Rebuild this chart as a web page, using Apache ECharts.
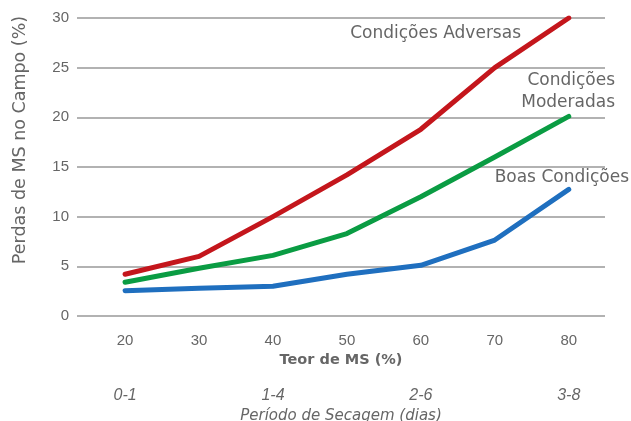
<!DOCTYPE html>
<html>
<head>
<meta charset="utf-8">
<script src="https://cdn.jsdelivr.net/npm/echarts@6/dist/echarts.min.js"></script>
<style>html,body{margin:0;padding:0;background:#fff}#c{width:631px;height:421px}</style>
</head>
<body>
<div id="c"></div>
<script>
var teorMS = [20, 30, 40, 50, 60, 70, 80];
var adversas = [4.2, 6.0, 10.0, 14.2, 18.8, 25.0, 30.0];
var moderadas = [3.4, 4.8, 6.1, 8.3, 12.0, 16.0, 20.1];
var boas = [2.55, 2.8, 3.0, 4.2, 5.1, 7.65, 12.75];
var periodoPos = [20, 40, 60, 80];
var periodoLabels = ['0-1', '1-4', '2-6', '3-8'];
var seriesNames = ['Condições Adversas', 'Condições Moderadas', 'Boas Condições'];

function pairs(vals) { return teorMS.map(function (x, i) { return [x, vals[i]]; }); }

var font = 'Liberation Sans';
var tfont = 'DejaVu Sans';
var grey = '#666666';
var chart = echarts.init(document.getElementById('c'));
chart.setOption({
  animation: false,
  textStyle: { fontFamily: font },
  grid: { left: 77, right: 26, top: 18, bottom: 105, outerBoundsMode: 'none', containLabel: false },
  xAxis: [{
    type: 'value', min: 13.5, max: 84.9,
    axisLine: { show: false }, axisTick: { show: false }, splitLine: { show: false },
    axisLabel: { customValues: teorMS, fontSize: 15, color: grey, margin: 17, fontFamily: font },
    name: 'Teor de MS (%)', nameLocation: 'middle', nameGap: 29,
    nameTextStyle: { fontSize: 14.5, color: grey, fontWeight: 'bold', fontFamily: tfont }
  }, {
    type: 'value', min: 13.5, max: 84.9, position: 'bottom', offset: 70,
    axisLine: { show: false }, axisTick: { show: false }, splitLine: { show: false },
    axisLabel: {
      customValues: periodoPos, fontSize: 16, color: grey, fontStyle: 'italic', margin: 2, fontFamily: font,
      formatter: function (v) { var i = periodoPos.indexOf(v); return i >= 0 ? periodoLabels[i] : ''; }
    },
    name: 'Período de Secagem (dias)', nameLocation: 'middle', nameGap: 12,
    nameTextStyle: { fontSize: 15, color: grey, fontStyle: 'italic', fontFamily: tfont }
  }],
  yAxis: {
    type: 'value', min: 0, max: 30, interval: 5,
    axisLine: { show: false }, axisTick: { show: false },
    splitLine: { lineStyle: { color: '#999999', width: 1.5 } },
    axisLabel: { fontSize: 15, color: grey, margin: 8, fontFamily: font }
  },
  series: [
    { name: seriesNames[0], type: 'line', data: pairs(adversas), showSymbol: false, symbol: 'none',
      lineStyle: { color: '#c4161c', width: 5, cap: 'round', join: 'round' } },
    { name: seriesNames[1], type: 'line', data: pairs(moderadas), showSymbol: false, symbol: 'none',
      lineStyle: { color: '#0a9c43', width: 5, cap: 'round', join: 'round' } },
    { name: seriesNames[2], type: 'line', data: pairs(boas), showSymbol: false, symbol: 'none',
      lineStyle: { color: '#1f6fbf', width: 5, cap: 'round', join: 'round' } }
  ],
  graphic: [
    { type: 'text', x: 20, y: 140, rotation: Math.PI / 2,
      style: { text: 'Perdas de MS no Campo (%)', fontSize: 17.5, fill: grey, fontFamily: tfont, align: 'center', verticalAlign: 'middle' } },
    { type: 'text', x: 521, y: 34,
      style: { text: 'Condições Adversas', fontSize: 17, fill: grey, fontFamily: tfont, align: 'right', verticalAlign: 'middle' } },
    { type: 'text', x: 615, y: 81,
      style: { text: 'Condições', fontSize: 17, fill: grey, fontFamily: tfont, align: 'right', verticalAlign: 'middle' } },
    { type: 'text', x: 615, y: 103,
      style: { text: 'Moderadas', fontSize: 17, fill: grey, fontFamily: tfont, align: 'right', verticalAlign: 'middle' } },
    { type: 'text', x: 629, y: 178,
      style: { text: 'Boas Condições', fontSize: 17, fill: grey, fontFamily: tfont, align: 'right', verticalAlign: 'middle' } }
  ]
});
</script>
</body>
</html>
